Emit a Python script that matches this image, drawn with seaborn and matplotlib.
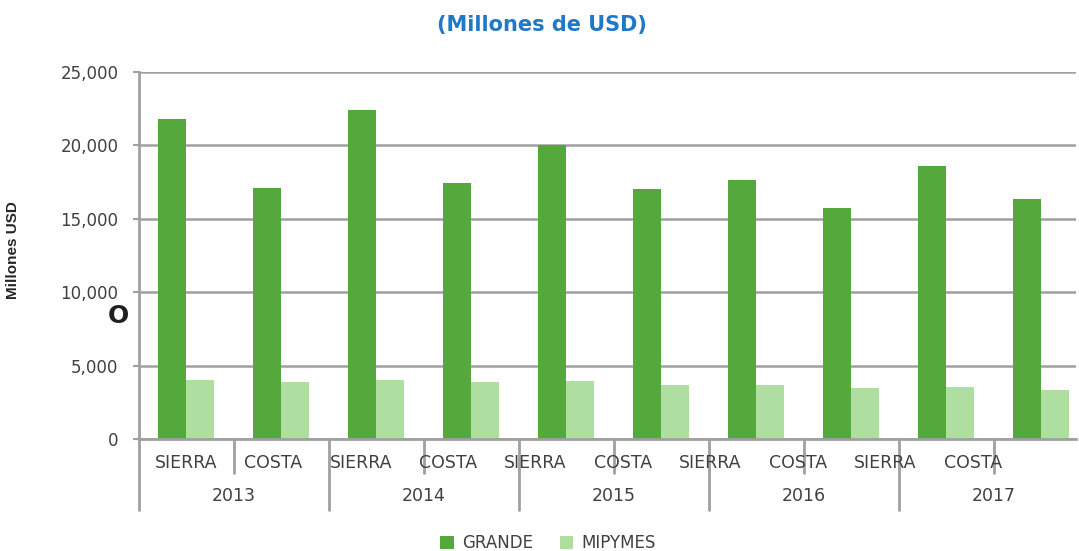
import pandas as pd
import matplotlib
matplotlib.use('Agg')
import matplotlib.pyplot as plt
import matplotlib.transforms as mtransforms
import seaborn as sns

# data
years = ['2013', '2014', '2015', '2016', '2017']
regions = ['SIERRA', 'COSTA']
grande = [21800, 17100, 22400, 17450, 20000, 17050, 17650, 15750, 18600, 16350]
mipymes = [4050, 3850, 4050, 3850, 3950, 3700, 3700, 3450, 3550, 3350]
series = ['GRANDE', 'MIPYMES']
colors = ['#55A83C', '#AFDEA1']
yticks = [0, 5000, 10000, 15000, 20000, 25000]

cats = [y + '-' + r for y in years for r in regions]
df = pd.DataFrame({
    'cat': cats * 2,
    'serie': [series[0]] * len(cats) + [series[1]] * len(cats),
    'valor': grande + mipymes,
})

sns.set_style('white')
plt.rcParams['font.family'] = ['DejaVu Sans']

W, H = 1079, 551
fig = plt.figure(figsize=(W / 100, H / 100), dpi=100)
ax_left, ax_right, ax_top, ax_bot = 138.5, 1076, 72, 439
ax = fig.add_axes([ax_left / W, (H - ax_bot) / H,
                   (ax_right - ax_left) / W, (ax_bot - ax_top) / H])

sns.barplot(data=df, x='cat', y='valor', hue='serie', order=cats,
            hue_order=series, palette=colors, saturation=1, width=0.58,
            linewidth=0, errorbar=None, ax=ax)

step = 95.0
ax.set_xlim(-0.5, -0.5 + (ax_right - ax_left) / step)
ax.set_ylim(0, 25000)
ax.set_yticks(yticks)
ax.set_yticklabels([f'{v:,}' for v in yticks])
ax.yaxis.grid(True, color='#A0A0A0', linewidth=1.8)
ax.set_axisbelow(True)
ax.tick_params(axis='y', length=4.5, width=1.5, color='#A0A0A0', pad=10,
               labelsize=12, labelcolor='#404040', left=True)
ax.set_xticks([])
ax.set_xlabel('')
for s in ['top', 'right']:
    ax.spines[s].set_visible(False)
for s in ['left', 'bottom']:
    ax.spines[s].set_color('#A0A0A0')
    ax.spines[s].set_linewidth(2)

ax.set_ylabel('Millones USD', fontsize=11, fontweight='bold',
              family=['Liberation Sans Narrow', 'Liberation Sans'])
ax.yaxis.set_label_coords(-0.126, 0.515)

# two-level category axis
trans = mtransforms.blended_transform_factory(ax.transData, ax.transAxes)
axh = ax_bot - ax_top
for i in range(len(cats) + 1):
    x = i - 0.5
    low = -(510 - ax_bot) / axh if i % 2 == 0 else -(473 - ax_bot) / axh
    ax.plot([x, x], [0, low], color='#A0A0A0', lw=2, transform=trans,
            clip_on=False)
for i, c in enumerate(cats):
    # excel spaced the inner labels slightly tighter than the bars
    ax.text(i * 0.92, -(463 - ax_bot) / axh, c.split('-')[1], ha='center',
            va='center', fontsize=12.5, color='#404040', transform=trans)
for j, y in enumerate(years):
    ax.text(2 * j + 0.5, -(496 - ax_bot) / axh, y, ha='center', va='center',
            fontsize=12.5, color='#404040', transform=trans)

fig.text(542 / W, 1 - 25 / H, '(Millones de USD)', ha='center', va='center',
         fontsize=15, fontweight='bold', color='#1F78C8')
fig.text(118 / W, 1 - 316 / H, 'O', ha='center', va='center', fontsize=18,
         fontweight='bold', color='#202020')

sns.move_legend(ax, 'center', bbox_to_anchor=(548 / W, 1 - 543 / H),
                bbox_transform=fig.transFigure, ncol=2, frameon=False,
                title=None, fontsize=12, handlelength=0.8, handleheight=0.8,
                handletextpad=0.5, columnspacing=1.6, labelcolor='#404040')

fig.savefig('out.png', dpi=100)
